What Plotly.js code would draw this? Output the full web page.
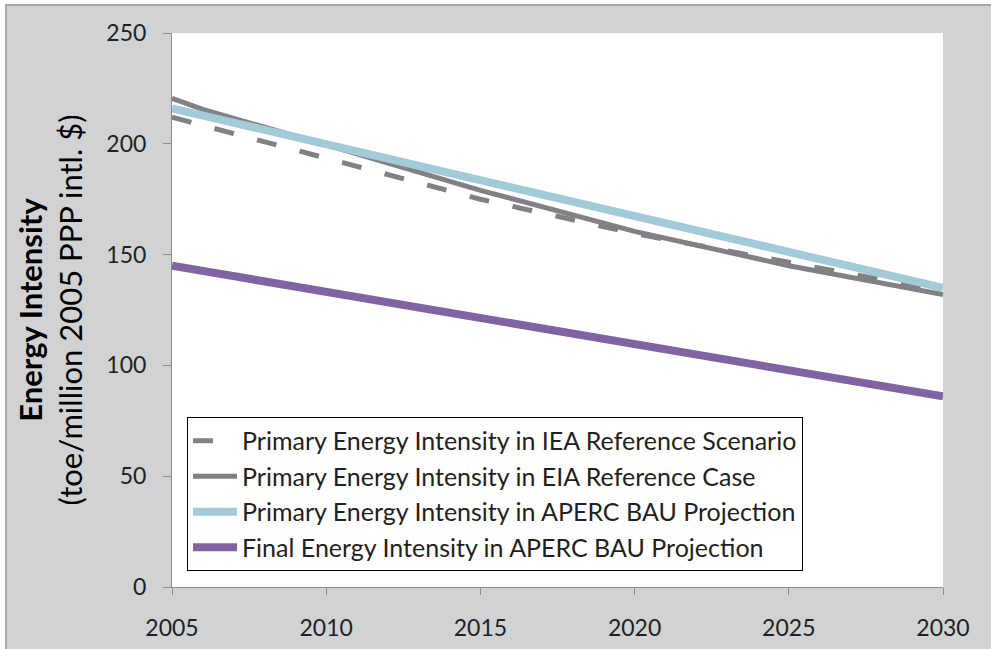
<!DOCTYPE html>
<html>
<head>
<meta charset="utf-8">
<script src="https://cdn.plot.ly/plotly-3.0.1.min.js"></script>
<style>
  html, body { margin: 0; padding: 0; background: #ffffff; width: 991px; height: 649px; overflow: hidden; }
  #frame { position: absolute; left: 5px; top: 4px; width: 986px; height: 645px;
           border-left: 2px solid #a7a8aa; border-top: 2px solid #a7a8aa; background: #d1d2d4; }
  #chart { width: 986px; height: 645px; }
</style>
</head>
<body>
<div id="frame"><div id="chart"></div></div>
<script>
// Data
const ieaYears  = [2005, 2015, 2020, 2030];
const ieaValues = [212, 175, 159.5, 133.5];

const eiaYears  = [2005, 2006, 2010, 2015, 2020, 2025, 2030];
const eiaValues = [220.5, 215.5, 199.5, 179, 160.5, 145, 132];

const apercYears   = [2005, 2030];
const apercPrimary = [216, 135];
const apercFinal   = [145, 86];

const seriesNames = [
  "Primary Energy Intensity in IEA Reference Scenario",
  "Primary Energy Intensity in EIA Reference Case",
  "Primary Energy Intensity in APERC BAU Projection",
  "Final Energy Intensity in APERC BAU Projection"
];

const xTicks = [2005, 2010, 2015, 2020, 2025, 2030];
const yTicks = [0, 50, 100, 150, 200, 250];

const FONT = "Lato, 'Open Sans', sans-serif";

const traces = [
  { x: apercYears, y: apercFinal, name: seriesNames[3], mode: "lines", legendgroup: "d", legendrank: 4,
    line: { color: "#8064a2", width: 8 } },
  { x: eiaYears, y: eiaValues, name: seriesNames[1], mode: "lines", legendgroup: "b", legendrank: 2,
    line: { color: "#808184", width: 5 } },
  { x: ieaYears, y: ieaValues, name: seriesNames[0], mode: "lines", legendgroup: "a", legendrank: 1,
    line: { color: "#808184", width: 5, dash: "20px,24px" } },
  { x: apercYears, y: apercPrimary, name: seriesNames[2], mode: "lines", legendgroup: "c", legendrank: 3,
    line: { color: "#a3cad8", width: 8 } }
];

const layout = {
  width: 986, height: 645,
  paper_bgcolor: "#d1d2d4",
  plot_bgcolor: "#ffffff",
  margin: { l: 165, r: 50, t: 27, b: 64 },
  font: { family: FONT, size: 23, color: "#231f20" },
  showlegend: true,
  legend: {
    x: 0.0195, y: 0.3069, xanchor: "left", yanchor: "top",
    bgcolor: "#ffffff", bordercolor: "#000000", borderwidth: 1,
    font: { family: FONT, size: 25, color: "#231f20" },
    traceorder: "grouped", tracegroupgap: 0,
    itemwidth: 44
  },
  xaxis: {
    range: [2005, 2030], tickvals: xTicks, ticktext: xTicks.map(String),
    showgrid: false, zeroline: false, showline: true, linecolor: "#8a8b8d", linewidth: 1,
    ticks: "outside", ticklen: 7, tickcolor: "#8a8b8d",
    ticklabelstandoff: 13,
    tickfont: { family: FONT, size: 23, color: "#231f20" }
  },
  yaxis: {
    range: [0, 250], tickvals: yTicks, ticktext: yTicks.map(String),
    showgrid: false, zeroline: false, showline: true, linecolor: "#8a8b8d", linewidth: 1,
    ticks: "outside", ticklen: 8, tickcolor: "#8a8b8d",
    ticklabelstandoff: 12,
    tickfont: { family: FONT, size: 23, color: "#231f20" },
    title: {
      text: "<b>Energy Intensity</b><br>(toe/million 2005 PPP intl. $)",
      font: { family: FONT, size: 31, color: "#000000" },
      standoff: 14
    }
  }
};

Plotly.newPlot("chart", traces, layout, { displayModeBar: false, staticPlot: true });
</script>
</body>
</html>
